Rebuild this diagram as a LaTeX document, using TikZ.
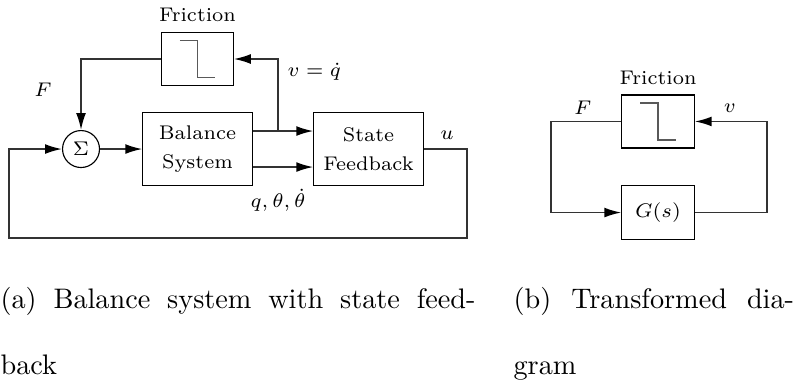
\documentclass[tikz,border=0pt]{standalone}
\usepackage{amsmath,amssymb}
\usepackage{xcolor}
\usepackage{tikz}
\usetikzlibrary{arrows.meta, positioning, calc}

\begin{document}
\begin{tikzpicture}[
    box/.style={rectangle, draw, line width=0.4pt, minimum width=1.36cm, minimum height=0.9cm, align=center, font=\fontsize{7}{10}\selectfont},
    fricbox/.style={rectangle, draw, line width=0.4pt, minimum width=0.89cm, minimum height=0.67cm, relay},
    sumnode/.style={circle, draw, line width=0.4pt, minimum size=0.46cm, inner sep=0pt, font=\fontsize{7}{8}\selectfont},
    lbl/.style={font=\fontsize{7}{8}\selectfont},
    sig/.style={draw=black!80, line width=0.6pt, -{Latex[length=6pt,width=3.5pt,color=black]}},
    captxt/.style={anchor=base west, inner sep=0pt, font=\fontsize{10}{12}\selectfont},
    relay/.style={path picture={
        \draw[black!65, line width=0.5pt] ([xshift=-0.22cm,yshift=0.23cm]path picture bounding box.center) -- ++(0.22,0) -- ++(0,-0.46) -- ++(0.22,0);
    }}
]
\useasboundingbox (0,0) rectangle (9.89,-4.79);

% -- (a) BALANCE SYSTEM WITH STATE FEEDBACK --
\node[fricbox, label={[lbl]above:Friction}] (fric1) at (2.457,-0.734) {};
\node[sumnode] (sum) at (1.008,-1.854) {$\Sigma$};
\node[box] (bal) at (2.457,-1.854) {Balance\\System};
\node[box] (sfb) at (4.584,-1.854) {State\\Feedback};

\coordinate (br) at (3.458,-1.63);
\coordinate (ur) at (5.81,-2.96);
\coordinate (ul) at (0.112,-2.96);

\draw[sig] (fric1.west) -| (sum.north);
\draw[sig] (sum.east) -- (bal.west);
\draw[sig] ([yshift=0.224cm]bal.east) -- ([yshift=0.224cm]sfb.west);
\draw[sig] ([yshift=-0.224cm]bal.east) -- ([yshift=-0.224cm]sfb.west);
\draw[sig] (br) |- (fric1.east);
\draw[sig] (sfb.east) -| (ur) -- (ul) |- (sum.west);

\node[lbl] (lF1) at (0.535,-1.12) {$F$};
\node[lbl] (lv1) at (3.91,-0.896) {$v=\dot q$};
\node[lbl] (lq) at (3.46,-2.49) {$q,\theta,\dot\theta$};
\node[lbl] (lu) at (5.56,-1.68) {$u$};

% -- (b) TRANSFORMED DIAGRAM --
\node[fricbox, minimum width=0.9cm, minimum height=0.66cm, label={[lbl]above:Friction}] (fric2) at (8.186,-1.511) {};
\node[box, minimum width=0.9cm, minimum height=0.68cm] (plant) at (8.186,-2.644) {$G(s)$};

\coordinate (lft) at (6.854,0);
\coordinate (rgt) at (9.54,0);

\draw[sig] (fric2.west) -- (fric2.west -| lft) |- (plant.west);
\draw[sig] (plant.east) -- (plant.east -| rgt) |- (fric2.east);

\node[lbl] (lF2) at (7.25,-1.344) {$F$};
\node[lbl] (lv2) at (9.08,-1.344) {$v$};

% -- captions --
\node[captxt] (capa1) at (0,-3.832) {\makebox[5.91cm][s]{(a) Balance system with state feed-}};
\node[captxt] (capa2) at (0,-4.665) {back};
\node[captxt] (capb1) at (6.382,-3.832) {\makebox[3.49cm][s]{(b) Transformed dia-}};
\node[captxt] (capb2) at (6.382,-4.665) {gram};

\end{tikzpicture}
\end{document}
